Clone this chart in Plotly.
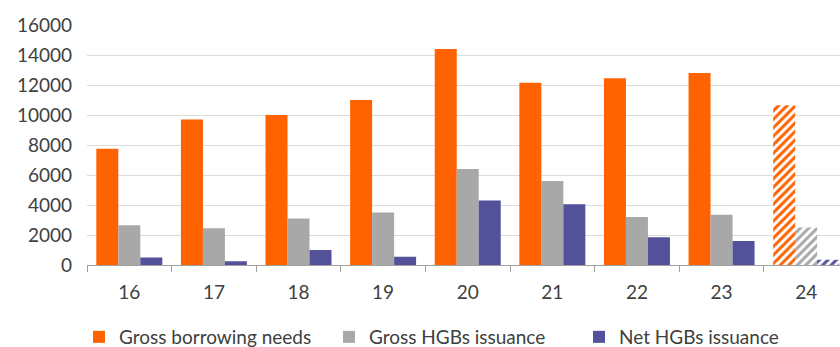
import plotly.graph_objects as go

years = ["16", "17", "18", "19", "20", "21", "22", "23", "24"]
gross_borrowing = [7750, 9700, 10000, 11000, 14400, 12150, 12450, 12800, 10650]
gross_hgb = [2650, 2450, 3100, 3500, 6400, 5600, 3200, 3350, 2500]
net_hgb = [500, 250, 1000, 550, 4300, 4050, 1850, 1600, 350]
forecast = [False] * 8 + [True]

ORANGE = "#FF6200"
GREY = "#A8A8A8"
PURPLE = "#525199"

def pattern(color):
    return dict(
        shape=["/" if f else "" for f in forecast],
        fgcolor=color,
        bgcolor="white",
        size=6,
        solidity=0.5,
        fillmode="replace",
    )

fig = go.Figure()
for name, vals, col in [
    ("Gross borrowing needs", gross_borrowing, ORANGE),
    ("Gross HGBs issuance", gross_hgb, GREY),
    ("Net HGBs issuance", net_hgb, PURPLE),
]:
    fig.add_trace(go.Bar(
        x=years, y=vals, name=name,
        marker=dict(color=col, line=dict(width=0), pattern=pattern(col)),
    ))

fig.update_layout(
    width=840, height=347,
    margin=dict(l=87, r=0, t=25, b=82),
    paper_bgcolor="white", plot_bgcolor="white",
    barmode="group", bargap=0.22, bargroupgap=0,
    font=dict(family="Lato", size=19, color="#404040"),
    showlegend=True,
    legend=dict(orientation="h", x=79 / 840, xanchor="left", xref="container",
                y=10 / 347, yref="container", yanchor="middle",
                entrywidth=205, font=dict(size=19), itemwidth=30,
                tracegroupgap=0),
    xaxis=dict(type="category", range=[-0.5, 8.4], showline=True, linecolor="#A0A0A0",
               linewidth=1, ticks="outside", tickson="boundaries", ticklen=6,
               tickcolor="#A0A0A0", showgrid=False, ticklabelstandoff=10),
    yaxis=dict(range=[0, 16000], dtick=2000, tickformat="d", showgrid=True,
               gridcolor="#DCDCDC", gridwidth=1, zeroline=False, showline=False,
               ticks="", ticklabelstandoff=14),
)

fig.write_html("out.html")
